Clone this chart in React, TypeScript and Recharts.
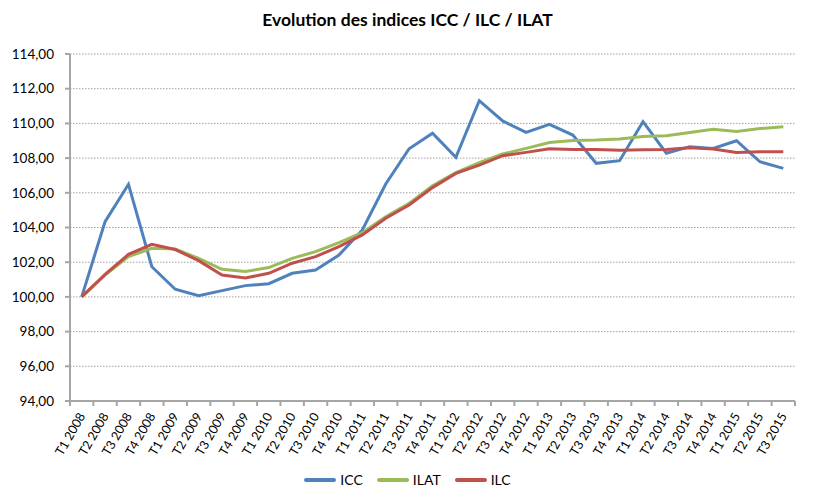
import { LineChart, Line, XAxis, YAxis, CartesianGrid, Legend } from "recharts";

const CATEGORIES = [
  "T1 2008", "T2 2008", "T3 2008", "T4 2008",
  "T1 2009", "T2 2009", "T3 2009", "T4 2009",
  "T1 2010", "T2 2010", "T3 2010", "T4 2010",
  "T1 2011", "T2 2011", "T3 2011", "T4 2011",
  "T1 2012", "T2 2012", "T3 2012", "T4 2012",
  "T1 2013", "T2 2013", "T3 2013", "T4 2013",
  "T1 2014", "T2 2014", "T3 2014", "T4 2014",
  "T1 2015", "T2 2015", "T3 2015",
];

const ICC = [
  100.0, 104.34, 106.49, 101.74, 100.44, 100.07, 100.36, 100.65,
  100.76, 101.36, 101.55, 102.41, 103.86, 106.51, 108.54, 109.43,
  108.04, 111.31, 110.14, 109.48, 109.94, 109.33, 107.7, 107.85,
  110.1, 108.28, 108.66, 108.56, 109.0, 107.79, 107.41,
];

const ILAT = [
  100.0, 101.26, 102.32, 102.8, 102.76, 102.22, 101.59, 101.47,
  101.69, 102.22, 102.61, 103.13, 103.7, 104.62, 105.39, 106.41,
  107.16, 107.74, 108.24, 108.56, 108.9, 109.02, 109.04, 109.1,
  109.24, 109.29, 109.47, 109.66, 109.54, 109.7, 109.81,
];

const ILC = [
  100.0, 101.3, 102.45, 103.03, 102.73, 102.09, 101.26, 101.09,
  101.36, 101.94, 102.32, 102.9, 103.57, 104.53, 105.3, 106.3,
  107.12, 107.6, 108.14, 108.33, 108.54, 108.5, 108.5, 108.45,
  108.48, 108.5, 108.6, 108.53, 108.33, 108.37, 108.37,
];

const Y_TICKS = [94, 96, 98, 100, 102, 104, 106, 108, 110, 112, 114];

const SERIES = [
  { key: "ICC", color: "#4f81bd" },
  { key: "ILAT", color: "#9bbb59" },
  { key: "ILC", color: "#c0504d" },
];

const data = CATEGORIES.map((c, i) => ({
  name: c,
  ICC: ICC[i],
  ILAT: ILAT[i],
  ILC: ILC[i],
}));

const FONT = "Lato, 'Liberation Sans', sans-serif";
const AXIS_GREY = "#a6a6a6";
const PLOT_W = 725;
const BAND = PLOT_W / CATEGORIES.length;

const fmt = (v: number) => v.toFixed(2).replace(".", ",");

const XTick = (props: any) => {
  const { x, y, payload, index } = props;
  const half = BAND / 2;
  const tx = x + 4;
  const ty = y + 15;
  return (
    <g>
      <line x1={x - half} y1={y} x2={x - half} y2={y + 5} stroke={AXIS_GREY} strokeWidth={2} />
      {index === CATEGORIES.length - 1 && (
        <line x1={x + half} y1={y} x2={x + half} y2={y + 5} stroke={AXIS_GREY} strokeWidth={2} />
      )}
      <text
        x={tx}
        y={ty}
        transform={`rotate(-60 ${tx} ${ty})`}
        textAnchor="end"
        fontSize={12.5}
        fontFamily={FONT}
        fill="#000"
      >
        {payload.value}
      </text>
    </g>
  );
};

const LegendContent = () => (
  <div
    style={{
      display: "flex",
      justifyContent: "center",
      alignItems: "center",
      fontFamily: FONT,
      fontSize: 14,
      color: "#000",
    }}
  >
    {SERIES.map((s) => (
      <div key={s.key} style={{ display: "flex", alignItems: "center", margin: "0 7px" }}>
        <div style={{ width: 32, height: 4, background: s.color, borderRadius: 2, marginRight: 4 }} />
        <span>{s.key}</span>
      </div>
    ))}
  </div>
);

export default function App() {
  return (
    <div style={{ position: "absolute", left: 0, top: 0, width: 825, height: 503, background: "#fff" }}>
      <div
        style={{
          position: "absolute",
          left: 0,
          top: 9,
          width: 815,
          textAlign: "center",
          fontFamily: FONT,
          fontWeight: 700,
          fontSize: 17.5,
          color: "#000",
        }}
      >
        Evolution des indices ICC / ILC / ILAT
      </div>
      <LineChart width={825} height={503} data={data} margin={{ top: 54, right: 30, bottom: 23, left: 0 }}>
        <CartesianGrid vertical={false} stroke="#a0a0a0" strokeDasharray="1.5 1.5" />
        <XAxis
          dataKey="name"
          interval={0}
          height={62}
          padding={{ left: BAND / 2, right: BAND / 2 }}
          axisLine={{ stroke: AXIS_GREY, strokeWidth: 2 }}
          tickLine={false}
          tickSize={0}
          tickMargin={0}
          tick={<XTick />}
        />
        <YAxis
          width={70}
          domain={[94, 114]}
          ticks={Y_TICKS}
          interval={0}
          tickFormatter={fmt}
          axisLine={{ stroke: AXIS_GREY, strokeWidth: 2 }}
          tickLine={{ stroke: AXIS_GREY, strokeWidth: 2 }}
          tickSize={5}
          tickMargin={11}
          tick={{ fontSize: 13.5, fontFamily: FONT, fill: "#000" }}
        />
        <Legend content={<LegendContent />} wrapperStyle={{ top: 471, left: 0, width: 815 }} />
        {SERIES.map((s) => (
          <Line
            key={s.key}
            dataKey={s.key}
            stroke={s.color}
            strokeWidth={3}
            dot={false}
            activeDot={false}
            isAnimationActive={false}
          />
        ))}
      </LineChart>
    </div>
  );
}
